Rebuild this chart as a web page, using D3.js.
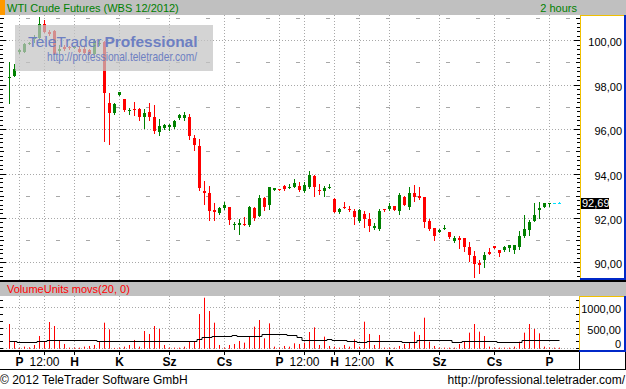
<!DOCTYPE html>
<html>
<head>
<meta charset="utf-8">
<script src="https://cdn.jsdelivr.net/npm/d3@7"></script>
<style>
  html, body { margin: 0; padding: 0; background: #fff; }
  svg { display: block; font-family: "Liberation Sans", Arial, sans-serif; }
</style>
</head>
<body>
<svg id="chart" width="626" height="389"></svg>
<script>
// 2-hour bars, index 0..110
const opens = [98.33,98.39,99.49,99.49,99.85,100.07,100.12,100.75,100.37,100.42,99.5,99.7,99.7,99.68,99.62,99.62,99.55,99.4,99.82,99.92,
  97.18,96.73,97.55,97.37,96.84,96.92,96.92,96.55,96.77,96.55,95.87,96.07,96.1,96.1,96.52,96.52,96.55,95.62,95.23,93.21,
  93.12,92.34,92.22,92.46,92.49,91.69,91.67,91.71,91.7,92.45,92.1,92.9,92.6,93.24,93.29,93.44,93.36,93.39,93.44,93.21,
  93.39,93.89,93.26,93.23,93.36,92.87,92.27,92.49,92.4,92.31,91.86,92.16,91.95,91.55,91.5,92.4,92.4,92.54,92.31,92.94,
  92.49,93.12,92.99,92.94,91.86,91.55,91.37,91.52,91.37,90.96,91.11,91.1,90.69,90.29,89.97,90.12,90.47,90.72,90.56,90.54,
  90.66,90.57,90.69,91.19,91.47,91.88,92.37,92.51,92.61,92.65,92.65];
const highs = [99.02,98.92,99.62,99.88,99.92,100.22,101.05,100.9,100.48,100.45,99.77,99.77,99.75,99.73,99.73,99.73,99.6,100.07,100.0,99.95,
  97.63,97.18,97.67,97.37,96.97,97.22,96.97,96.92,97.18,97.07,96.47,96.22,96.22,96.4,96.7,96.77,96.67,95.72,95.54,93.66,
  93.44,92.67,92.49,92.72,92.49,91.82,91.97,92.04,92.52,92.49,93.02,92.94,93.39,93.35,93.31,93.5,93.51,93.75,93.62,93.63,
  94.11,93.93,93.54,93.45,93.53,92.9,92.45,92.72,92.54,92.42,92.4,92.31,92.22,91.77,92.4,92.4,92.67,92.54,93.12,92.99,
  93.39,93.48,93.39,92.94,91.97,91.55,91.5,91.68,91.37,91.17,91.2,91.1,90.92,90.51,90.12,90.47,90.66,90.75,90.56,90.75,
  90.78,90.78,91.41,92.13,91.92,92.67,92.72,92.67,92.67,92.65,92.72];
const lows = [97.19,98.39,99.45,99.49,99.82,99.92,100.07,100.37,100.22,99.37,99.43,99.55,99.62,99.65,99.46,99.4,99.37,99.37,99.77,95.47,
  95.35,96.67,97.55,96.82,96.67,96.65,96.43,96.07,96.4,95.83,95.75,96.02,95.98,96.07,96.47,96.43,95.57,95.05,93.27,92.61,
  91.89,91.92,92.19,92.42,91.71,91.52,91.26,91.67,91.64,91.89,92.07,92.37,92.42,93.24,93.24,93.24,93.36,93.39,93.21,93.18,
  93.36,92.99,93.06,92.99,93.36,92.27,92.22,92.45,92.31,91.74,91.83,91.59,91.41,91.5,91.47,92.31,92.37,92.37,92.19,92.57,
  92.42,92.76,92.85,91.59,91.47,91.02,91.37,91.52,91.1,90.92,90.66,90.51,90.06,89.34,89.52,89.79,90.38,90.66,90.29,90.51,
  90.51,90.42,90.62,91.14,91.25,91.88,92.01,92.51,92.52,92.65,92.65];
const closes = [98.35,98.72,99.58,99.85,99.88,100.1,100.75,100.37,100.27,99.4,99.62,99.62,99.68,99.7,99.49,99.43,99.4,99.97,99.88,97.63,
  96.73,97.12,97.67,96.88,96.86,96.85,96.55,96.73,96.55,95.92,96.13,96.17,96.17,96.35,96.64,96.64,95.68,95.27,93.36,93.14,
  92.31,92.28,92.45,92.6,91.89,91.71,91.77,91.67,92.49,92.01,92.9,92.49,93.39,93.35,93.26,93.32,93.39,93.59,93.27,93.48,
  93.95,93.39,93.23,93.35,93.39,92.27,92.4,92.45,92.34,92.04,92.34,91.95,91.64,91.64,92.31,92.36,92.52,92.37,93.05,92.6,
  93.12,92.94,92.9,91.82,91.52,91.19,91.44,91.56,91.14,91.11,91.02,90.69,90.35,89.94,89.88,90.35,90.38,90.66,90.44,90.69,
  90.78,90.78,91.19,91.5,91.82,92.13,92.45,92.67,92.67,92.66,92.69];
const liveFrom = 109; // bars still forming, drawn in cyan
const lastPrice = 92.69;

const volumes = [584,160,10,40,24,80,296,160,632,536,184,104,16,16,16,40,56,80,160,616,
  456,10,16,40,80,200,40,416,344,536,464,80,16,16,16,40,160,160,824,1216,
  896,616,80,16,80,104,176,136,296,520,680,240,600,40,16,56,40,120,104,136,
  392,504,80,280,56,40,16,80,40,216,40,640,344,80,320,16,16,16,56,104,
  136,400,320,736,160,56,16,16,16,16,104,160,376,584,400,296,40,16,16,16,
  16,40,160,376,584,464,360,40,16,16,16];
const volumeAvg = [176,176,144,144,144,144,176,176,200,200,200,200,200,200,200,200,200,200,184,176,
  176,176,176,176,176,176,176,176,176,176,176,176,176,176,176,176,176,176,216,264,
  264,296,296,296,296,320,296,296,296,296,296,344,344,344,344,344,320,320,264,200,
  200,200,200,200,216,200,200,200,176,176,160,160,184,184,184,184,184,184,184,160,
  160,160,200,200,200,200,200,200,200,160,160,184,184,184,184,184,184,184,160,160,
  152,152,152,200,200,200,200,200,200,200,200];

const tickIndex = [2, 7, 13, 22, 32, 43, 54, 59, 65, 70, 76, 86, 97, 108];
const tickLabels = ["P", "12:00", "H", "K", "Sz", "Cs", "P", "12:00", "H", "12:00", "K", "Sz", "Cs", "P"];
const priceTicks = [90, 92, 94, 96, 98, 100];
const volumeTicks = [0, 500, 1000];

const svg = d3.select("#chart");
const W = 626;
const plotRight = 580;
const main = { top: 15, bottom: 280 };
const vol = { top: 296, bottom: 350 };

const x = d3.scaleLinear().domain([0, 110]).range([9.5, 559.5]);
const y = d3.scaleLinear().domain([90, 100]).range([262.3, 40.3]);
const yv = d3.scaleLinear().domain([0, 1000]).range([348.3, 306.7]);

const red = "#ff0000", green = "#008000", cyan = "#00e0ff";
const gridColor = "#a8a8a8";
const fmt = v => d3.format(".2f")(v).replace(".", ",");

// header bar
svg.append("rect").attr("x", 0).attr("y", 0).attr("width", W).attr("height", 15).attr("fill", "#c0c0c0");
svg.append("rect").attr("x", 0).attr("y", 0).attr("width", 5).attr("height", 15).attr("fill", "#ff9900");
svg.append("text").attr("x", 7).attr("y", 12).attr("font-size", 11).attr("fill", green)
  .text("WTI Crude Futures (WBS 12/2012)");
svg.append("text").attr("x", 577).attr("y", 12).attr("font-size", 11).attr("fill", green)
  .attr("text-anchor", "end").text("2 hours");

// clip for the price pane
svg.append("clipPath").attr("id", "mainClip").append("rect")
  .attr("x", 0).attr("y", main.top).attr("width", plotRight).attr("height", main.bottom - main.top);

const grid = svg.append("g").attr("clip-path", "url(#mainClip)");

// horizontal grid: dotted at labelled levels, sparse dashes half way
const halfLevels = d3.range(89, 102, 2).filter(v => y(v) > main.top && y(v) < main.bottom);
grid.selectAll(".hdot").data(priceTicks).enter().append("line")
  .attr("x1", 0).attr("x2", plotRight)
  .attr("y1", d => Math.round(y(d)) + 0.5).attr("y2", d => Math.round(y(d)) + 0.5)
  .attr("stroke", gridColor).attr("stroke-dasharray", "1,2");
grid.selectAll(".hdash").data(halfLevels).enter().append("line")
  .attr("x1", 0).attr("x2", plotRight)
  .attr("y1", d => Math.round(y(d)) + 0.5).attr("y2", d => Math.round(y(d)) + 0.5)
  .attr("stroke", gridColor).attr("stroke-dasharray", "4,26").attr("stroke-dashoffset", 4);

// vertical grid in both panes
[[main.top, main.bottom], [vol.top, vol.bottom]].forEach(([t, b]) => {
  svg.append("g").selectAll("line").data(tickIndex).enter().append("line")
    .attr("x1", d => x(d)).attr("x2", d => x(d))
    .attr("y1", t).attr("y2", b)
    .attr("stroke", gridColor).attr("stroke-dasharray", "1,2");
});

// candles
const bars = d3.range(opens.length).map(i => ({
  i, o: opens[i], h: highs[i], l: lows[i], c: closes[i]
}));
const colorOf = d => d.i >= liveFrom ? cyan : (d.c >= d.o ? green : red);
const candles = svg.append("g").attr("clip-path", "url(#mainClip)");
candles.selectAll(".wick").data(bars).enter().append("line")
  .attr("x1", d => x(d.i)).attr("x2", d => x(d.i))
  .attr("y1", d => Math.round(y(d.h))).attr("y2", d => Math.round(y(d.l)) + 1)
  .attr("stroke", colorOf).attr("stroke-width", 1);
candles.selectAll(".body").data(bars).enter().append("rect")
  .attr("x", d => x(d.i) - 1.5)
  .attr("width", 3)
  .attr("y", d => Math.round(y(Math.max(d.o, d.c))))
  .attr("height", d => Math.max(1, Math.round(y(Math.min(d.o, d.c))) - Math.round(y(Math.max(d.o, d.c)))))
  .attr("fill", colorOf);

// watermark
const wm = svg.append("g");
wm.append("rect").attr("x", 15).attr("y", 25).attr("width", 198).attr("height", 46)
  .attr("fill", "#c4c4c4").attr("opacity", 0.72);
wm.append("text").attr("x", 28).attr("y", 47).attr("font-size", 15.5).attr("fill", "#6d7fc2").text("TeleTrader");
wm.append("text").attr("x", 104.5).attr("y", 47).attr("font-size", 15.5).attr("font-weight", "bold")
  .attr("fill", "#6d7fc2").text("Professional");
wm.append("text").attr("x", 47).attr("y", 61).attr("font-size", 13).attr("fill", "#6d7fc2")
  .attr("textLength", 150).attr("lengthAdjust", "spacingAndGlyphs").text("http://professional.teletrader.com/");

// price axis ticks (left and right of the pane)
const minor = d3.range(89.2, 101.1, 0.2).map(v => +v.toFixed(1));
const tickLen = v => Math.abs(v % 2) < 0.01 ? 6 : (Math.abs(v % 1) < 0.01 ? 4 : 3);
const ticks = svg.append("g");
minor.forEach(v => {
  const ty = Math.round(y(v)) + 0.5;
  if (ty < main.top + 1 || ty > main.bottom - 1) return;
  ticks.append("line").attr("x1", 0).attr("x2", tickLen(v)).attr("y1", ty).attr("y2", ty).attr("stroke", "#000");
  ticks.append("line").attr("x1", plotRight - tickLen(v)).attr("x2", plotRight).attr("y1", ty).attr("y2", ty).attr("stroke", "#000");
});

// right axis panel for price
const yellow = "#f0c000", blue = "#0028c8";
svg.append("line").attr("x1", 580.5).attr("x2", 580.5).attr("y1", 15).attr("y2", 279).attr("stroke", yellow);
svg.append("line").attr("x1", 580).attr("x2", 624).attr("y1", 15.5).attr("y2", 15.5).attr("stroke", yellow);
svg.append("rect").attr("x", 624).attr("y", 15).attr("width", 2).attr("height", 265).attr("fill", blue);
svg.append("rect").attr("x", 580).attr("y", 278).attr("width", 46).attr("height", 2).attr("fill", blue);
svg.append("g").selectAll("text").data(priceTicks).enter().append("text")
  .attr("x", 622).attr("y", d => y(d) + 6).attr("text-anchor", "end").attr("font-size", 11)
  .text(fmt);

// last price marker
svg.append("rect").attr("x", 581).attr("y", Math.round(y(lastPrice)) - 5).attr("width", 28).attr("height", 11).attr("fill", "#000");
svg.append("text").attr("x", 582).attr("y", Math.round(y(lastPrice)) + 4).attr("font-size", 11).attr("fill", "#fff")
  .text(fmt(lastPrice));

// volume pane frame
svg.append("rect").attr("x", 0).attr("y", 280).attr("width", W).attr("height", 2).attr("fill", "#000");
svg.append("rect").attr("x", 0).attr("y", 282).attr("width", W).attr("height", 14).attr("fill", "#c0c0c0");
svg.append("text").attr("x", 7).attr("y", 293).attr("font-size", 11).attr("fill", red)
  .text("VolumeUnits movs(20, 0)");

// volume grid
svg.append("g").selectAll("line").data(volumeTicks).enter().append("line")
  .attr("x1", 0).attr("x2", 579)
  .attr("y1", d => Math.round(yv(d)) + 0.5).attr("y2", d => Math.round(yv(d)) + 0.5)
  .attr("stroke", gridColor).attr("stroke-dasharray", "1,2");

// volume bars
svg.append("g").selectAll("line").data(volumes).enter().append("line")
  .attr("x1", (d, i) => x(i)).attr("x2", (d, i) => x(i))
  .attr("y1", d => yv(d)).attr("y2", yv(0) + 0.5)
  .attr("stroke", red);

// moving average of volume
svg.append("path")
  .datum(volumeAvg)
  .attr("d", d3.line().x((d, i) => x(i)).y(d => Math.round(yv(d)) + 0.5).curve(d3.curveStep))
  .attr("fill", "none").attr("stroke", "#000").attr("stroke-width", 1);

// volume ticks, every third of 500
const vTicks = d3.range(0, 1250, 500 / 3);
vTicks.forEach(v => {
  const ty = Math.round(yv(v)) + 0.5;
  if (ty < vol.top + 1) return;
  svg.append("line").attr("x1", 0).attr("x2", 3).attr("y1", ty).attr("y2", ty).attr("stroke", "#000");
  svg.append("line").attr("x1", 576).attr("x2", 579).attr("y1", ty).attr("y2", ty).attr("stroke", "#000");
});

// volume right panel
svg.append("line").attr("x1", 579.5).attr("x2", 579.5).attr("y1", 296).attr("y2", 350).attr("stroke", yellow);
svg.append("line").attr("x1", 579).attr("x2", 624).attr("y1", 296.5).attr("y2", 296.5).attr("stroke", yellow);
svg.append("rect").attr("x", 624).attr("y", 296).attr("width", 2).attr("height", 56).attr("fill", blue);
svg.append("rect").attr("x", 579).attr("y", 350).attr("width", 47).attr("height", 2).attr("fill", blue);
svg.append("g").selectAll("text").data(volumeTicks).enter().append("text")
  .attr("x", 621).attr("y", d => Math.min(yv(d) + 6, 348)).attr("text-anchor", "end").attr("font-size", 11)
  .text(d => d === 0 ? "0" : fmt(d));

// time axis strip
svg.append("rect").attr("x", 0).attr("y", 350).attr("width", 579).attr("height", 2).attr("fill", "#000");
svg.append("line").attr("x1", 0).attr("x2", W).attr("y1", 369.5).attr("y2", 369.5).attr("stroke", "#000");
svg.append("line").attr("x1", 579.5).attr("x2", 579.5).attr("y1", 352).attr("y2", 370).attr("stroke", "#000");
svg.append("line").attr("x1", 625.5).attr("x2", 625.5).attr("y1", 352).attr("y2", 370).attr("stroke", "#000");

const xAxis = svg.append("g");
xAxis.selectAll("line").data(tickIndex).enter().append("line")
  .attr("x1", d => x(d)).attr("x2", d => x(d)).attr("y1", 352).attr("y2", 355).attr("stroke", "#000");
xAxis.selectAll("text").data(tickIndex).enter().append("text")
  .attr("x", d => x(d)).attr("y", 366).attr("text-anchor", "middle").attr("font-size", 12)
  .attr("font-weight", (d, i) => tickLabels[i] === "12:00" ? "normal" : "bold")
  .text((d, i) => tickLabels[i]);

// footer
svg.append("text").attr("x", 0).attr("y", 384).attr("font-size", 12).text("© 2012 TeleTrader Software GmbH");
svg.append("text").attr("x", 625).attr("y", 384).attr("font-size", 12).attr("text-anchor", "end")
  .text("http://professional.teletrader.com/");
</script>
</body>
</html>
